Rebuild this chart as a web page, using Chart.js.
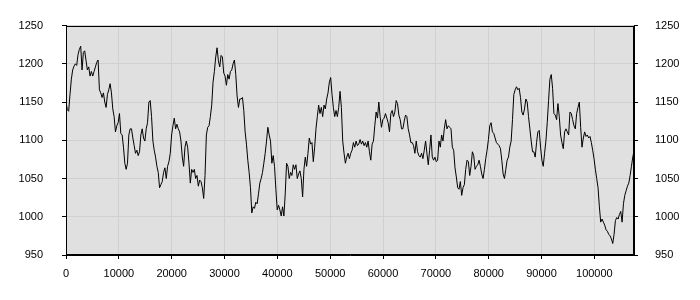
<!DOCTYPE html>
<html>
<head>
<meta charset="utf-8">
<script src="https://cdn.jsdelivr.net/npm/chart.js@4/dist/chart.umd.min.js"></script>
<style>
  html, body { margin: 0; padding: 0; background: #fff; }
  #wrap { width: 700px; height: 300px; }
</style>
</head>
<body>
<div id="wrap"><canvas id="chart" width="700" height="300"></canvas></div>
<script>
// sample spacing along x
const xStep = 253;
const xMax = 107500;
const xTicks = [0, 10000, 20000, 30000, 40000, 50000, 60000, 70000, 80000, 90000, 100000];
const yTicks = [950, 1000, 1050, 1100, 1150, 1200, 1250];

// series values
const values = [
  1150,1140,1138,1160,1180,1192,1197,1200,1198,1212,
  1219,1223,1192,1215,1217,1204,1192,1196,1184,1190,
  1184,1190,1196,1202,1205,1166,1162,1156,1162,1150,
  1143,1160,1166,1174,1162,1141,1131,1111,1119,1123,
  1135,1109,1107,1091,1070,1062,1070,1107,1115,1115,
  1103,1093,1083,1087,1080,1085,1107,1115,1103,1099,
  1115,1123,1150,1152,1131,1099,1087,1078,1066,1058,
  1038,
  1042,1046,1058,1064,1050,1066,1072,1083,1107,1119,
  1129,1115,1121,1115,1111,1099,1078,1066,1091,1099,
  1091,1070,1044,1062,1058,1062,1050,1054,1040,1048,
  1046,1038,1024,1054,1107,1117,1119,1131,1146,1176,
  1190,1209,1221,1204,1196,1211,1209,1188,1184,1172,
  1186,1180,1190,1192,1200,1205,1186,1158,1143,1154,
  1154,1156,1139,1111,1095,1074,1058,1038,1005,1013,
  1011,1019,1017,1030,1044,1050,1058,1070,1083,1099,
  1117,1107,1099,1070,1080,1066,1036,1009,1015,1009,
  1001,1013,1001,1030,1070,1066,1050,1058,1054,1068,
  1062,1068,1050,1056,1060,1050,1026,1062,1078,1066,
  1083,1103,1095,1097,1072,1091,1115,1131,1146,1135,
  1143,1131,1146,1141,1154,1162,1176,1182,1160,1143,
  1131,1139,1131,1143,1164,1143,1099,1083,1070,1078,
  1083,
  1076,1083,1087,1097,1091,1099,1093,1095,1101,1095,
  1099,1093,1097,1091,1099,1085,1074,1095,1099,1119,
  1137,1129,1150,1131,1117,1127,1129,1135,1129,1123,
  1111,1135,1139,1131,1137,1152,1148,1133,1127,1115,
  1115,1125,1133,1131,1115,1107,1097,1097,1093,1083,
  1099,1085,1080,1078,1083,1076,1087,1099,1083,1068,
  1087,1107,1078,1074,1078,1072,1074,1099,1091,1107,
  1099,1115,1127,1115,1119,1117,1115,1091,1087,1064,
  1052,1038,1036,1046,1028,1038,1042,1062,1074,1072,
  1054,1066,1085,1080,1062,1066,1068,1074,1066,1056,
  1050,1062,1076,1087,1101,1119,1123,1111,1109,1103,
  1097,1095,1093,1089,1074,1056,1050,1062,1074,1078,
  1091,1099,1127,1160,1166,1170,1166,1168,1156,1137,
  1133,1141,1154,1150,1131,1115,1099,1085,1085,1078,
  1097,
  1111,1113,1091,1074,1066,1083,1099,1123,1152,1180,
  1186,1168,1135,1133,1127,1148,1131,1107,1097,1089,
  1111,1115,1111,1107,1137,1135,1127,1119,1115,1135,
  1143,1150,1117,1091,1103,1111,1105,1107,1103,1105,
  1097,1087,1076,1062,1050,1038,1013,993,997,993,
  989,983,981,977,975,971,965,977,995,999,
  997,1003,1007,993,1017,1028,1034,1040,1044,1054,
  1066,1078,1087
];

const points = values.map((v, i) => ({ x: i * xStep, y: v }));

Chart.defaults.font.family = "'Liberation Sans', Arial, sans-serif";
Chart.defaults.font.size = 11;
Chart.defaults.color = "#000";

// grey plot panel + black frame
const panel = {
  id: "panel",
  beforeDraw(chart) {
    const { ctx, chartArea: a } = chart;
    ctx.save();
    ctx.fillStyle = "#e0e0e0";
    ctx.fillRect(a.left, a.top, a.right - a.left, a.bottom - a.top);
    ctx.restore();
  },
  afterDraw(chart) {
    const { ctx, chartArea: a } = chart;
    ctx.save();
    ctx.strokeStyle = "#000";
    ctx.lineWidth = 1;
    ctx.strokeRect(Math.round(a.left) + 0.5, Math.round(a.top) + 0.5,
      Math.round(a.right - a.left) - 1, Math.round(a.bottom - a.top) - 1);
    ctx.restore();
  }
};

const gridColor = "#d0d0d0";
const fixTicks = list => s => { s.ticks = list.map(v => ({ value: v })); };

new Chart(document.getElementById("chart"), {
  type: "line",
  data: {
    datasets: [{
      data: points,
      borderColor: "#000",
      borderWidth: 1,
      pointRadius: 0,
      tension: 0,
      fill: false
    }]
  },
  options: {
    responsive: false,
    animation: false,
    layout: { padding: { top: 10, left: 0, right: 0, bottom: 0 } },
    plugins: { legend: { display: false }, tooltip: { enabled: false } },
    scales: {
      x: {
        type: "linear",
        min: 0,
        max: xMax,
        afterFit: s => { s.height = 45; },
        afterBuildTicks: fixTicks(xTicks),
        ticks: { autoSkip: false, padding: 8, maxRotation: 0, callback: v => String(v) },
        grid: { color: gridColor, tickColor: "#000", tickLength: 4 },
        border: { color: "#000" }
      },
      y: {
        position: "left",
        min: yTicks[0],
        max: yTicks[yTicks.length - 1],
        afterFit: s => { s.width = 66; },
        afterBuildTicks: fixTicks(yTicks),
        ticks: { autoSkip: false, padding: 19, callback: v => String(v) },
        grid: { color: gridColor, tickColor: "#000", tickLength: 4 },
        border: { color: "#000" }
      },
      y2: {
        position: "right",
        min: yTicks[0],
        max: yTicks[yTicks.length - 1],
        afterFit: s => { s.width = 66; },
        afterBuildTicks: fixTicks(yTicks),
        ticks: { autoSkip: false, padding: 17, callback: v => String(v) },
        grid: { drawOnChartArea: false, tickColor: "#000", tickLength: 4 },
        border: { color: "#000" }
      }
    }
  },
  plugins: [panel]
});
</script>
</body>
</html>
